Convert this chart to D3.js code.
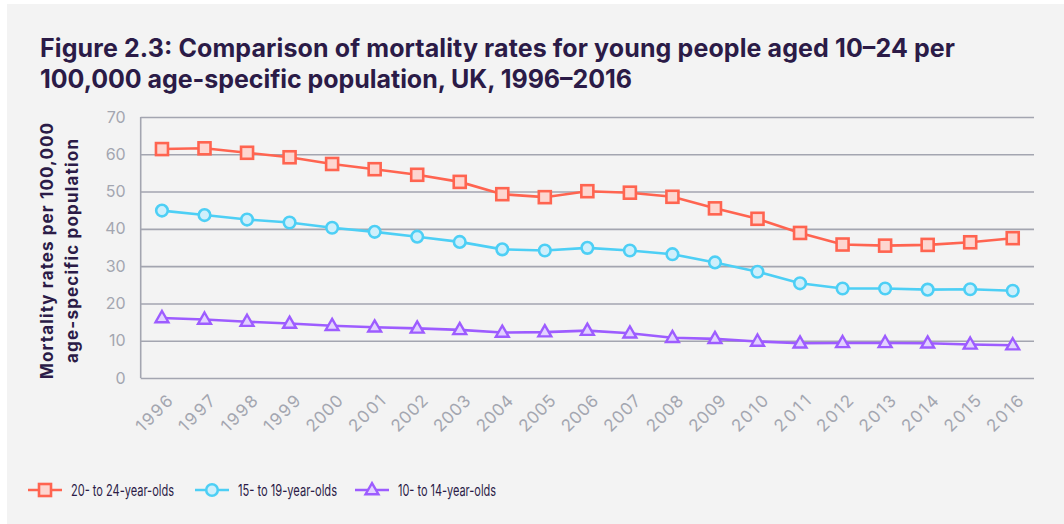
<!DOCTYPE html>
<html>
<head>
<meta charset="utf-8">
<script src="https://cdn.jsdelivr.net/npm/d3@7"></script>
<style>
  html, body { margin: 0; padding: 0; background: #ffffff; }
  svg { display: block; }
</style>
</head>
<body>
<svg id="chart" width="1064" height="524"></svg>
<script>
// Years on the x axis
const years = ["1996","1997","1998","1999","2000","2001","2002","2003","2004","2005","2006",
               "2007","2008","2009","2010","2011","2012","2013","2014","2015","2016"];

// Mortality rates per 100,000 age-specific population
const age20to24 = [61.4, 61.6, 60.4, 59.2, 57.4, 56.0, 54.5, 52.6, 49.3, 48.5, 50.1,
                   49.7, 48.6, 45.5, 42.7, 38.9, 35.8, 35.5, 35.7, 36.4, 37.5];
const age15to19 = [44.9, 43.7, 42.5, 41.7, 40.3, 39.2, 37.9, 36.5, 34.5, 34.2, 34.9,
                   34.2, 33.2, 31.0, 28.5, 25.4, 24.0, 24.0, 23.7, 23.8, 23.4];
const age10to14 = [16.1, 15.7, 15.1, 14.6, 14.0, 13.6, 13.3, 12.9, 12.2, 12.3, 12.7,
                   12.0, 10.8, 10.5, 9.8, 9.3, 9.4, 9.4, 9.3, 9.0, 8.8];

const yTicks = [0, 10, 20, 30, 40, 50, 60, 70];
const seriesNames = ["20- to 24-year-olds", "15- to 19-year-olds", "10- to 14-year-olds"];

const series = [
  { name: seriesNames[0], values: age20to24, stroke: "#ff6450", fill: "#fdd6d0", shape: "square" },
  { name: seriesNames[1], values: age15to19, stroke: "#4dcff5", fill: "#cfeffb", shape: "circle" },
  { name: seriesNames[2], values: age10to14, stroke: "#9d5cff", fill: "#e2d2ff", shape: "triangle" }
];

const svg = d3.select("#chart");
const W = 1064, H = 524;
const FONT = "Inter, Lato, sans-serif";

// panel background
svg.append("rect").attr("x", 7).attr("y", 4).attr("width", W - 7).attr("height", H - 4)
   .attr("fill", "#f3f3f3");

const titleColor = "#2b1b47";
const title = svg.append("text")
  .attr("font-family", FONT)
  .attr("font-weight", 700)
  .attr("font-size", 25)
  .attr("fill", titleColor);
title.append("tspan").attr("x", 40).attr("y", 57)
  .attr("textLength", 915).attr("lengthAdjust", "spacing")
  .text("Figure 2.3: Comparison of mortality rates for young people aged 10\u201324 per");
title.append("tspan").attr("x", 40).attr("y", 88)
  .attr("textLength", 592).attr("lengthAdjust", "spacing")
  .text("100,000 age-specific population, UK, 1996\u20132016");

const plot = { left: 140.7, right: 1034, top: 117, bottom: 378 };

const x = d3.scaleBand().domain(years).range([plot.left, plot.right]);
const y = d3.scaleLinear().domain([0, 70]).range([plot.bottom, plot.top]);
const cx = d => x(d) + x.bandwidth() / 2;

const gridColor = "#a3a5b0";
const tickColor = "#a3a6b0";

// horizontal gridlines and y labels
const yAxis = d3.axisLeft(y).tickValues(yTicks).tickSize(-(plot.right - plot.left)).tickPadding(15);
const gy = svg.append("g").attr("transform", `translate(${plot.left},0)`).call(yAxis);
gy.select(".domain").remove();
gy.selectAll(".tick line").attr("stroke", gridColor).attr("stroke-width", 1.6);
gy.selectAll(".tick text").attr("fill", tickColor)
  .attr("font-family", FONT).attr("font-size", 16);

// left axis line
svg.append("line").attr("x1", plot.left).attr("x2", plot.left)
  .attr("y1", plot.top).attr("y2", plot.bottom)
  .attr("stroke", gridColor).attr("stroke-width", 1.6);

// x labels, rotated
const xAxis = d3.axisBottom(x).tickSize(0).tickPadding(0);
const gx = svg.append("g").attr("transform", `translate(0,${plot.bottom})`).call(xAxis);
gx.select(".domain").remove();
gx.selectAll(".tick text")
  .attr("fill", tickColor)
  .attr("font-family", FONT).attr("font-size", 17)
  .attr("text-anchor", "end")
  .attr("dy", null)
  .attr("textLength", 44).attr("lengthAdjust", "spacing")
  .attr("transform", "translate(12,24) rotate(-45)");

// y axis title
const yt = svg.append("text")
  .attr("font-family", FONT).attr("font-weight", 700)
  .attr("font-size", 17).attr("fill", titleColor)
  .attr("text-anchor", "middle")
  .attr("transform", "translate(0,251) rotate(-90)");
yt.append("tspan").attr("x", 0).attr("y", 53)
  .attr("textLength", 256).attr("lengthAdjust", "spacing")
  .text("Mortality rates per 100,000");
yt.append("tspan").attr("x", 0).attr("y", 78)
  .attr("textLength", 224).attr("lengthAdjust", "spacing")
  .text("age-specific population");

function drawMarker(g, shape, px, py, s) {
  if (shape === "square") {
    g.append("rect").attr("x", px - 6).attr("y", py - 6).attr("width", 12).attr("height", 12)
      .attr("fill", s.fill).attr("stroke", s.stroke).attr("stroke-width", 2.6);
  } else if (shape === "circle") {
    g.append("circle").attr("cx", px).attr("cy", py).attr("r", 5.8)
      .attr("fill", s.fill).attr("stroke", s.stroke).attr("stroke-width", 2.6);
  } else {
    const sym = d3.symbol().type(d3.symbolTriangle).size(72);
    g.append("path").attr("d", sym()).attr("transform", `translate(${px},${py + 0.5})`)
      .attr("fill", s.fill).attr("stroke", s.stroke).attr("stroke-width", 2.4)
      .attr("stroke-linejoin", "miter");
  }
}

const line = d3.line().x((d, i) => cx(years[i])).y(d => y(d));

// draw from bottom series up so the top series sits above
series.slice().reverse().forEach(s => {
  const g = svg.append("g");
  g.append("path").datum(s.values).attr("d", line)
    .attr("fill", "none").attr("stroke", s.stroke).attr("stroke-width", 2.6);
  s.values.forEach((v, i) => drawMarker(g, s.shape, cx(years[i]), y(v), s));
});

// legend
const legendX = [28, 195, 355];
const legendTextLen = [103, 99, 98];
const legendY = 490;
series.forEach((s, i) => {
  const g = svg.append("g");
  const x0 = legendX[i];
  g.append("line").attr("x1", x0).attr("x2", x0 + 34).attr("y1", legendY).attr("y2", legendY)
    .attr("stroke", s.stroke).attr("stroke-width", 2.6);
  drawMarker(g, s.shape, x0 + 17, legendY, s);
  g.append("text").attr("x", x0 + 43).attr("y", legendY + 6)
    .attr("font-family", FONT).attr("font-size", 16)
    .attr("textLength", legendTextLen[i]).attr("lengthAdjust", "spacingAndGlyphs")
    .attr("fill", titleColor).text(s.name);
});
</script>
</body>
</html>
